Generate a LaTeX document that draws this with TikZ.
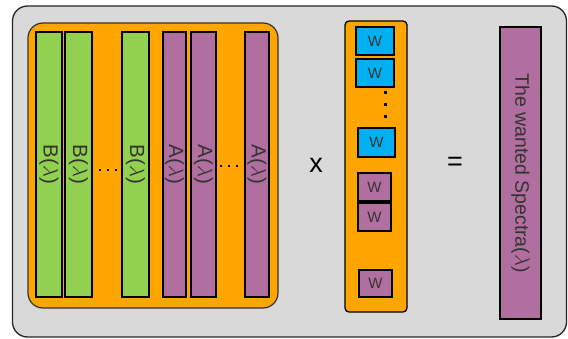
\documentclass[tikz,border=0pt]{standalone}
\usepackage{fontspec}
\setmainfont{Liberation Sans}
\usepackage{amsmath}
\definecolor{bggray}{HTML}{D9D9D9}
\definecolor{orng}{HTML}{FFA500}
\definecolor{grn}{HTML}{92D050}
\definecolor{purp}{HTML}{B06F9F}
\definecolor{blu}{HTML}{00B0F0}
\definecolor{txt}{HTML}{333333}
\tikzset{
  vbar/.style={draw=black, line width=1.3pt, rotate=-90, inner sep=0pt, text=txt, font=\fontsize{20.5}{20}\selectfont},
  gbar/.style={vbar, fill=grn},
  pbar/.style={vbar, fill=purp},
  wbox/.style={draw=black, line width=1.3pt, inner sep=0pt, text=txt, font=\fontsize{15}{15}\selectfont},
  bw/.style={wbox, fill=blu},
  pw/.style={wbox, fill=purp},
  dotsq/.style={fill=black, minimum size=3pt, inner sep=0pt},
  hdot/.style={fill=black, minimum size=2.6pt, inner sep=0pt}
}
\begin{document}
\begin{tikzpicture}[x=1pt,y=-1pt]
\useasboundingbox (0,0) rectangle (568,339);
\node[draw=black!85, line width=1.3pt, fill=bggray, rounded corners=15pt, minimum width=554, minimum height=331, inner sep=0pt] (outer) at (289.5,171.5) {};
\node[draw=black!80, line width=1.2pt, fill=orng, rounded corners=15pt, minimum width=250, minimum height=285, inner sep=0pt] (left) at (153,165.5) {};
\node[gbar, minimum width=265, minimum height=26] (b1) at (49,164.5) {B($\lambda$)};
\node[gbar, minimum width=265, minimum height=27] (b2) at (78.5,164.5) {B($\lambda$)};
\node[gbar, minimum width=265, minimum height=27] (b3) at (135.5,164.5) {B($\lambda$)};
\node[pbar, minimum width=265, minimum height=23] (a1) at (174.5,164.5) {A($\lambda$)};
\node[pbar, minimum width=265, minimum height=25] (a2) at (203.5,164.5) {A($\lambda$)};
\node[pbar, minimum width=265, minimum height=24] (a3) at (257,164.5) {A($\lambda$)};
\node[hdot] (h1) at (100,170) {};
\node[hdot] (h2) at (108,170) {};
\node[hdot] (h3) at (116,170) {};
\node[hdot] (h4) at (221,166) {};
\node[hdot] (h5) at (229,166) {};
\node[hdot] (h6) at (237,166) {};
\node[font=\fontsize{27}{27}\selectfont, inner sep=0pt] (times) at (316,165) {x};
\node[draw=black, line width=1.3pt, fill=orng, rounded corners=4pt, minimum width=62, minimum height=291, inner sep=0pt] (wcol) at (376,166.5) {};
\node[bw, minimum width=38, minimum height=28] (w1) at (375,41) {W};
\node[bw, minimum width=38, minimum height=28] (w2) at (375,73) {W};
\node[dotsq] (v1) at (385,93) {};
\node[dotsq] (v2) at (385,105) {};
\node[dotsq] (v3) at (385,117) {};
\node[bw, minimum width=37, minimum height=29] (w3) at (376.5,142.5) {W};
\node[pw, minimum width=33, minimum height=28] (w4) at (374.5,187) {W};
\node[pw, minimum width=33, minimum height=28] (w5) at (374.5,217) {W};
\node[pw, minimum width=33, minimum height=27] (w6) at (375.5,283.5) {W};
\node[font=\fontsize{27}{27}\selectfont, inner sep=0pt] (eq) at (455,164) {=};
\node[pbar, minimum width=292, minimum height=41, font=\fontsize{19.5}{19}\selectfont] (spec) at (520.5,173) {The wanted Spectra($\lambda$)};
\end{tikzpicture}
\end{document}
